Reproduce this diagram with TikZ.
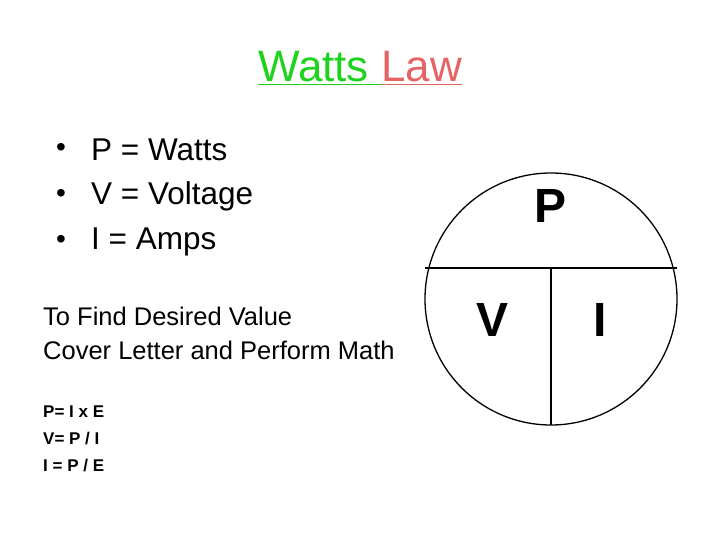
\documentclass[tikz,border=0pt]{standalone}
\usepackage{fontspec}
\setmainfont{Liberation Sans}
\definecolor{wgreen}{RGB}{30,210,30}
\definecolor{lred}{RGB}{228,100,100}
\begin{document}
\begin{tikzpicture}[x=1pt,y=-1pt,
  bul/.style={anchor=west,font=\fontsize{31.5}{34}\selectfont,inner sep=0},
  dot/.style={font=\fontsize{28}{30}\selectfont,inner sep=0},
  mid/.style={anchor=west,font=\fontsize{25.5}{28}\selectfont,inner sep=0},
  sml/.style={anchor=west,font=\bfseries\fontsize{17}{20}\selectfont,inner sep=0},
  big/.style={font=\bfseries\fontsize{48}{52}\selectfont,inner sep=0},
  ln/.style={line width=1.3pt}]
\useasboundingbox (0,0) rectangle (720,540);
\node[font=\fontsize{44}{48}\selectfont,inner sep=0] (t) at (360,68)
  {\textcolor{wgreen}{\underline{Watts\ }}\textcolor{lred}{\underline{Law}}};
\node[dot] (b1) at (61,150) {•};
\node[dot] (b2) at (61,196) {•};
\node[dot] (b3) at (61,242) {•};
\node[bul] (p1) at (91,150) {P = Watts};
\node[bul] (p2) at (91,196) {V = Voltage};
\node[bul] (p3) at (91,242) {I = Amps};
\node[mid] (m1) at (43,316) {To Find Desired Value};
\node[mid] (m2) at (43,350) {Cover Letter and Perform Math};
\node[sml] (s1) at (43,412) {P= I x E};
\node[sml] (s2) at (43,439) {V= P / I};
\node[sml] (s3) at (43,466) {I = P / E};
\draw[ln] (551,299) circle (126);
\coordinate (hl) at (425,268); \coordinate (hr) at (677,268);
\coordinate (vt) at (551,268); \coordinate (vb) at (551,425);
\draw[ln] (hl) -- (hr);
\draw[ln] (vt) -- (vb);
\node[big] (P) at (551,206) {P};
\node[big] (V) at (493,320) {V};
\node[big] (I) at (600,320) {I};
\end{tikzpicture}
\end{document}
